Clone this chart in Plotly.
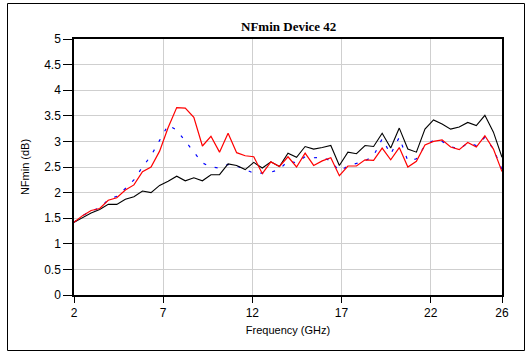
import plotly.graph_objects as go

freq_start = 2.0
freq_step = 0.48
n_points = 51
freq = [round(freq_start + freq_step * i, 2) for i in range(n_points)]

nfmin_black = [1.42, 1.51, 1.60, 1.67, 1.77, 1.77, 1.87, 1.92, 2.03, 2.00,
               2.14, 2.22, 2.32, 2.23, 2.29, 2.23, 2.35, 2.35, 2.56, 2.53,
               2.45, 2.59, 2.48, 2.60, 2.51, 2.77, 2.69, 2.90, 2.85, 2.88,
               2.92, 2.53, 2.79, 2.76, 2.92, 2.90, 3.16, 2.87, 3.26, 2.85,
               2.79, 3.24, 3.42, 3.34, 3.24, 3.28, 3.37, 3.31, 3.51, 3.18,
               2.69]

nfmin_red = [1.42, 1.55, 1.65, 1.69, 1.85, 1.90, 2.05, 2.15, 2.41, 2.50,
             2.81, 3.27, 3.66, 3.65, 3.47, 2.91, 3.10, 2.79, 3.16, 2.78,
             2.72, 2.70, 2.37, 2.60, 2.51, 2.70, 2.50, 2.77, 2.53, 2.62,
             2.68, 2.33, 2.52, 2.52, 2.64, 2.63, 2.87, 2.64, 2.88, 2.50,
             2.61, 2.93, 3.00, 3.03, 2.89, 2.84, 2.98, 2.89, 3.11, 2.85,
             2.41]

nfmin_blue = [1.42, 1.55, 1.64, 1.70, 1.86, 1.93, 2.08, 2.25, 2.50, 2.72,
              3.02, 3.32, 3.22, 3.00, 2.78, 2.58, 2.50, 2.48, 2.55, 2.52,
              2.45, 2.38, 2.38, 2.40, 2.45, 2.62, 2.58, 2.70, 2.68, 2.69,
              2.62, 2.42, 2.52, 2.57, 2.62, 2.72, 3.05, 2.75, 3.08, 2.62,
              2.66, 2.92, 3.02, 3.00, 2.90, 2.85, 2.97, 2.92, 3.08, 2.85,
              2.45]

x_ticks = [2, 7, 12, 17, 22, 26]
y_ticks = [0, 0.5, 1, 1.5, 2, 2.5, 3, 3.5, 4, 4.5, 5]
y_tick_text = ["0", "0.5", "1", "1.5", "2", "2.5", "3", "3.5", "4", "4.5", "5"]

fig = go.Figure()
fig.add_trace(go.Scatter(x=freq, y=nfmin_blue, mode="lines",
                         line=dict(color="#0000ff", width=1.2, dash="3px,9px"),
                         showlegend=False))
fig.add_trace(go.Scatter(x=freq, y=nfmin_black, mode="lines",
                         line=dict(color="#000000", width=1.1),
                         showlegend=False))
fig.add_trace(go.Scatter(x=freq, y=nfmin_red, mode="lines",
                         line=dict(color="#ff0000", width=1.2),
                         showlegend=False))

W, H = 527, 354
L, R, T, B = 74, 25, 39, 59
pw, ph = W - L - R, H - T - B

def px_x(p):
    return (p - L) / pw

def px_y(p):
    return (H - B - p) / ph

axis_font = dict(family="Liberation Sans, Arial, sans-serif", size=12, color="#000")

fig.update_layout(
    width=W, height=H,
    margin=dict(l=L, r=R, t=T, b=B),
    paper_bgcolor="white", plot_bgcolor="white",
    showlegend=False,
    xaxis=dict(range=[2, 26], tickvals=x_ticks, ticktext=[str(v) for v in x_ticks],
               showgrid=True, gridcolor="#cfcfcf", gridwidth=1.2,
               showline=True, linecolor="#000", linewidth=1.5, mirror=True,
               ticks="outside", ticklen=6, tickcolor="#000", tickwidth=1,
               tickfont=axis_font, zeroline=False,
               title=dict(text="Frequency (GHz)", standoff=7,
                          font=dict(family="Liberation Sans, Arial, sans-serif", size=11, color="#000"))),
    yaxis=dict(range=[0, 5], tickvals=y_ticks, ticktext=y_tick_text,
               showgrid=True, gridcolor="#cfcfcf", gridwidth=1.2,
               showline=True, linecolor="#000", linewidth=1.5, mirror=True,
               ticks="outside", ticklen=9, tickcolor="#000", tickwidth=1,
               tickfont=axis_font, zeroline=False,
               title=dict(text="NFmin (dB)", standoff=12,
                          font=dict(family="Liberation Sans, Arial, sans-serif", size=11, color="#000"))),
    annotations=[dict(text="<b>NFmin Device 42</b>", xref="paper", yref="paper",
                      x=0.5, y=px_y(26), xanchor="center", yanchor="middle",
                      showarrow=False,
                      font=dict(family="Liberation Serif, Times New Roman, serif", size=13, color="#000"))],
    shapes=[dict(type="rect", xref="paper", yref="paper",
                 x0=px_x(7.5), x1=px_x(524.5), y0=px_y(350.5), y1=px_y(3.5),
                 line=dict(color="#000", width=1), layer="below")],
)

fig.write_html("out.html")
